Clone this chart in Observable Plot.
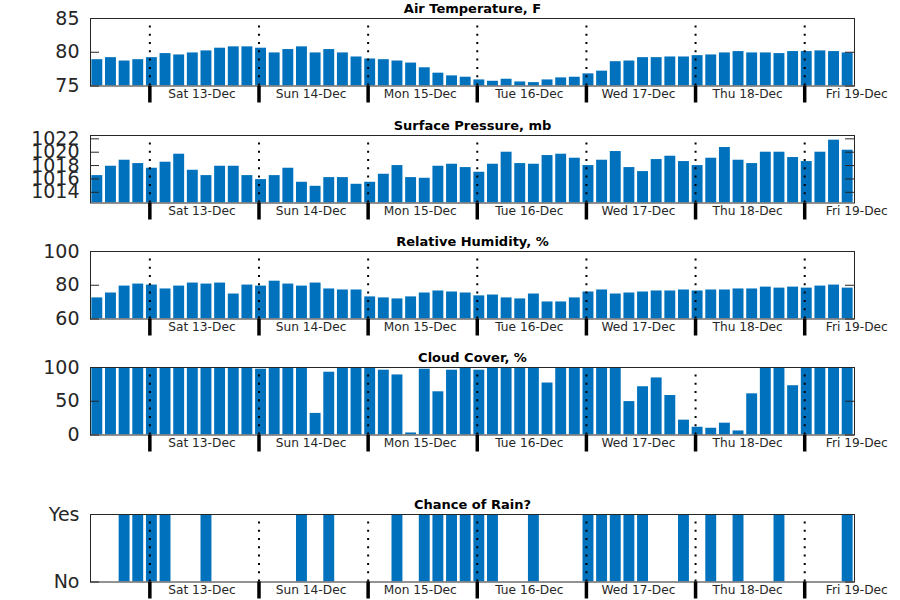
<!DOCTYPE html>
<html>
<head>
<meta charset="utf-8">
<script src="https://cdn.jsdelivr.net/npm/d3@7"></script>
<script src="https://cdn.jsdelivr.net/npm/@observablehq/plot@0.6"></script>
<style>
  html, body { margin: 0; padding: 0; background: #fff; }
  body { width: 900px; height: 600px; position: relative; overflow: hidden; font-family: "DejaVu Sans", sans-serif; }
  .panel { position: absolute; left: 0; }
  .panel svg { overflow: visible; }
</style>
</head>
<body>
<div id="chart"></div>
<script>
// ---- data (3-hourly forecast, 56 steps) ----
const dayLabels = ["Sat 13-Dec", "Sun 14-Dec", "Mon 15-Dec", "Tue 16-Dec", "Wed 17-Dec", "Thu 18-Dec", "Fri 19-Dec"];
const firstMidnight = 3.85; // step index of the first midnight
const stepsPerDay = 8;

const temperature = [78.9,79.2,78.7,78.9,79.2,79.8,79.6,79.9,80.2,80.6,
  80.8,80.8,80.6,79.9,80.4,80.8,79.9,80.4,79.9,79.3,
  79.0,78.9,78.7,78.4,77.7,76.9,76.5,76.3,75.9,75.7,
  76.0,75.6,75.5,75.9,76.2,76.3,76.8,77.2,78.6,78.7,
  79.2,79.2,79.3,79.3,79.5,79.6,79.9,80.1,79.9,79.9,
  79.8,80.1,80.1,80.2,80.1,79.9];

const pressure = [1016.5,1017.9,1018.8,1018.3,1017.6,1018.5,1019.7,1017.3,1016.5,1017.9,
  1017.9,1016.5,1015.9,1016.5,1017.6,1015.5,1014.9,1016.2,1016.2,1015.2,
  1015.5,1016.7,1018.0,1016.2,1016.1,1017.9,1018.2,1017.7,1017.0,1018.2,
  1020.0,1018.3,1018.2,1019.5,1019.7,1019.1,1018.0,1018.8,1020.1,1017.7,
  1017.1,1018.9,1019.4,1018.6,1018.0,1019.1,1020.7,1018.8,1018.3,1020.0,
  1020.0,1019.2,1018.6,1020.0,1021.8,1020.3];

const humidity = [72.5,75.4,79.5,80.7,80.1,77.8,79.5,81.3,80.7,81.3,
  74.8,80.1,79.5,82.4,80.7,79.5,81.3,77.8,77.2,77.2,
  73.1,72.5,71.9,73.1,75.4,76.6,76.0,75.4,73.7,74.2,
  72.5,71.9,74.8,70.1,70.1,72.5,76.0,77.2,74.8,75.4,
  76.0,76.6,76.6,77.2,76.6,77.2,77.2,77.8,77.8,78.9,
  78.3,78.9,78.3,79.5,80.1,78.3];

const cloudCover = [100,100,100,100,100,100,100,100,100,100,
  100,100,97.5,100,100,100,32,93,100,100,
  100,96,89,3,97.5,64,96,100,96,100,
  100,100,100,77,100,100,100,100,100,49.5,
  71.5,84.5,58.5,22,11.5,10,17.5,6,61,100,
  100,73,100,100,100,100];

const rain = [0,0,1,1,1,1,0,0,1,0,
  0,0,0,0,0,1,0,1,0,0,
  0,0,1,0,1,1,1,1,1,1,
  0,0,1,0,0,0,1,1,1,1,
  1,0,0,1,0,1,0,1,0,0,
  1,0,0,0,0,1];

// ---- layout ----
const W = 900, ML = 90, MR = 46, MT = 22, FH = 67.5, MB = 30;
const frameW = W - ML - MR;
const blue = "#0072BD", ink = "#262626";

const panels = [
  {title: "Air Temperature, F", values: temperature, domain: [75, 85], ticks: [75, 80, 85], fmt: d => String(d), top: 18.3},
  {title: "Surface Pressure, mb", values: pressure, domain: [1012.4, 1022.5], ticks: [1014, 1016, 1018, 1020, 1022], fmt: d => String(d), top: 135},
  {title: "Relative Humidity, %", values: humidity, domain: [60, 100], ticks: [60, 80, 100], fmt: d => String(d), top: 250.5},
  {title: "Cloud Cover, %", values: cloudCover, domain: [0, 100], ticks: [0, 50, 100], fmt: d => String(d), top: 367},
  {title: "Chance of Rain?", values: rain, domain: [0, 1], ticks: [0, 1], fmt: d => (d ? "Yes" : "No"), top: 514.3}
];

const nSteps = temperature.length;
const boundaries = dayLabels.map((_, k) => firstMidnight + stepsPerDay * k);
const dayRows = dayLabels.map((label, k) => ({label, mid: firstMidnight + stepsPerDay * k + stepsPerDay / 2}));

const container = document.getElementById("chart");

panels.forEach(p => {
  const rows = p.values.map((v, i) => ({i, v}));
  const [y0, y1] = p.domain;
  const chart = Plot.plot({
    width: W,
    height: MT + FH + MB,
    marginTop: MT, marginBottom: MB, marginLeft: ML, marginRight: MR,
    x: {domain: [-0.5, nSteps - 0.5], axis: null},
    y: {domain: p.domain, axis: null},
    style: {fontFamily: "DejaVu Sans, sans-serif", color: ink, background: "transparent", overflow: "visible"},
    marks: [
      Plot.rect(rows, {x1: d => d.i - 0.4, x2: d => d.i + 0.4, y1: y0, y2: "v", fill: blue, clip: true}),
      Plot.ruleX(boundaries, {x: d => d, y1: y0, y2: y1, stroke: "black", strokeWidth: 2, strokeDasharray: "2,6.3"}),
      Plot.frame({stroke: ink, strokeWidth: 1}),
      Plot.tickY(p.ticks, {y: d => d, stroke: ink, insetRight: frameW - 9}),
      Plot.tickY(p.ticks, {y: d => d, stroke: ink, insetLeft: frameW - 9}),
      Plot.axisY({ticks: p.ticks, tickFormat: p.fmt, tickSize: 0, tickPadding: 11, fontSize: 19, label: null, fill: ink}),
      Plot.axisX(boundaries, {tickSize: 17, strokeWidth: 3.5, stroke: "black", tickFormat: () => "", label: null}),
      Plot.text(dayRows, {x: "mid", text: "label", frameAnchor: "bottom", dy: 3, dx: -2.5, lineAnchor: "top", fontSize: 12.2, fill: ink}),
      Plot.text([p.title], {text: d => d, frameAnchor: "top", dy: -6, lineAnchor: "bottom", fontSize: 13, fontWeight: "bold", fill: "black"})
    ]
  });
  const div = document.createElement("div");
  div.className = "panel";
  div.style.top = (p.top - MT) + "px";
  div.appendChild(chart);
  container.appendChild(div);
});
</script>
</body>
</html>
